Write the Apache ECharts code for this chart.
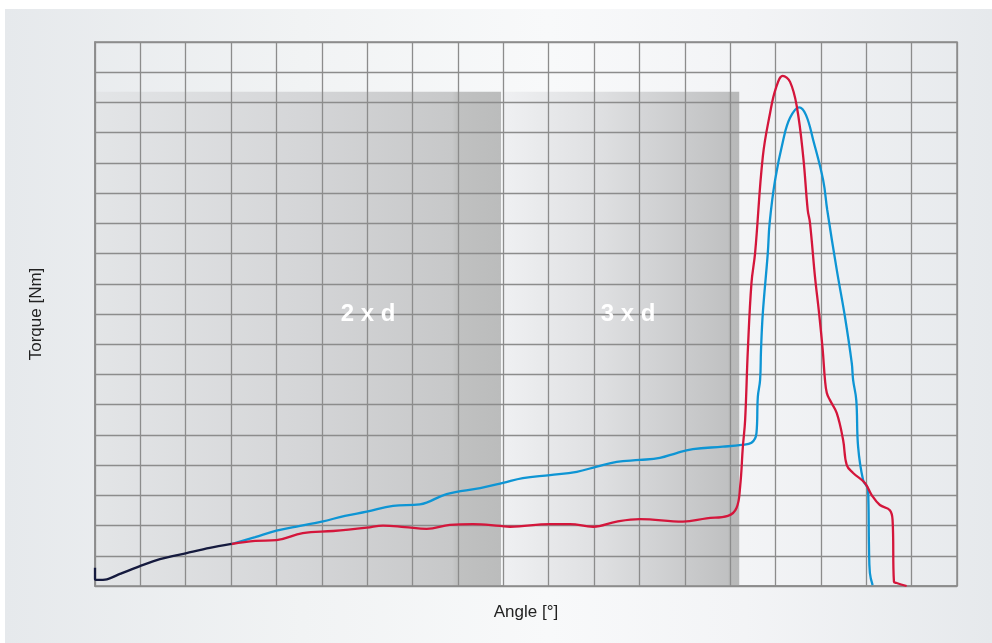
<!DOCTYPE html>
<html>
<head>
<meta charset="utf-8">
<script src="https://cdn.jsdelivr.net/npm/echarts@6/dist/echarts.min.js"></script>
<style>
  html, body { margin: 0; padding: 0; width: 992px; height: 643px; background: #ffffff; overflow: hidden; }
  #card { position: absolute; left: 5px; top: 9px; right: 0; bottom: 0;
    background: linear-gradient(90deg, #e6e9ec 0%, #f1f3f4 30%, #f8f9fa 55%, #f3f4f6 75%, #e6e9ec 100%); }
  #chart { position: absolute; left: 0; top: 0; width: 992px; height: 643px; }
</style>
</head>
<body>
<div id="card"></div>
<div id="chart"></div>
<script>
// ---- data (x in grid units of angle, y in grid units of torque) ----
const commonCurve = [
  [0, 0.60], [0, 0.23], [0.04, 0.20], [0.26, 0.22], [0.55, 0.40], [0.99, 0.66],
  [1.43, 0.89], [2.02, 1.09], [2.53, 1.26], [3.01, 1.39]
];
const blueCurve = [
  [3.01, 1.39], [3.53, 1.62], [4.00, 1.83], [4.52, 1.99], [5.00, 2.13], [5.51, 2.32],
  [5.99, 2.46], [6.57, 2.65], [7.16, 2.70], [7.75, 3.04], [8.49, 3.24], [8.99, 3.41],
  [9.43, 3.57], [10.03, 3.67], [10.62, 3.78], [11.06, 3.95], [11.50, 4.11], [12.01, 4.17],
  [12.45, 4.24], [12.82, 4.40], [13.18, 4.53], [13.84, 4.61], [14.25, 4.67], [14.47, 4.74],
  [14.58, 5.06], [14.61, 6.26], [14.66, 6.82], [14.68, 7.81], [14.72, 9.03], [14.83, 11.02],
  [14.87, 12.01], [14.99, 13.43], [15.17, 14.76], [15.32, 15.49], [15.52, 15.84],
  [15.67, 15.59], [15.83, 14.76], [16.05, 13.43], [16.14, 12.44],
  [16.35, 10.46], [16.53, 8.91], [16.68, 7.38], [16.71, 6.82], [16.78, 6.15], [16.82, 4.61],
  [16.93, 3.51], [17.04, 3.18], [17.06, 1.30], [17.08, 0.43], [17.14, 0.03]
];
const redCurve = [
  [3.01, 1.39], [3.53, 1.49], [4.00, 1.52], [4.58, 1.75], [5.25, 1.82], [5.99, 1.93],
  [6.35, 2.00], [6.83, 1.95], [7.31, 1.89], [7.82, 2.02], [8.33, 2.05], [8.93, 1.99],
  [9.15, 1.96], [10.03, 2.05], [10.47, 2.05], [10.98, 1.96], [11.50, 2.13], [12.01, 2.21],
  [12.96, 2.13], [13.48, 2.24], [13.95, 2.32], [14.14, 2.58], [14.22, 3.29], [14.28, 4.61],
  [14.33, 5.49], [14.39, 7.81], [14.47, 10.03], [14.55, 11.02],
  [14.72, 14.21], [14.88, 15.65], [15.01, 16.48], [15.16, 16.88], [15.32, 16.68],
  [15.47, 15.86], [15.61, 14.21], [15.71, 12.44], [15.76, 12.01], [15.87, 10.23],
  [15.96, 9.03], [16.04, 7.81], [16.09, 6.82], [16.13, 6.39], [16.20, 6.15], [16.35, 5.72],
  [16.49, 4.83], [16.57, 4.00], [16.71, 3.74], [16.97, 3.41], [17.12, 3.01], [17.30, 2.68],
  [17.52, 2.51], [17.58, 2.18], [17.61, 0.14], [17.67, 0.10], [17.89, 0.00]
];
// shaded zones
const zoneStarts = [0, 9.0];
const zoneEnds = [8.95, 14.2];
const zoneTop = 16.35;
const zoneLabels = ['2 x d', '3 x d'];
const zoneLabelPos = [[6.02, 9.0], [11.75, 9.0]];
// axes
const xMin = 0, xMax = 19, yMin = 0, yMax = 18;
const xName = 'Angle [°]';
const yName = 'Torque [Nm]';

const zoneGradients = [
  { type: 'linear', x: 0, y: 0, x2: 1, y2: 0, colorStops: [
    { offset: 0, color: '#e3e5e7' }, { offset: 0.5, color: '#d5d6d8' },
    { offset: 0.88, color: '#c7c8c9' }, { offset: 0.89, color: '#c0c1c1' }, { offset: 1, color: '#bbbcbc' } ] },
  { type: 'linear', x: 0, y: 0, x2: 1, y2: 0, colorStops: [
    { offset: 0, color: '#eff0f2' }, { offset: 0.4, color: '#dfe0e2' },
    { offset: 0.95, color: '#c0c1c2' }, { offset: 0.96, color: '#b9baba' }, { offset: 1, color: '#b8b9b9' } ] }
];

const chart = echarts.init(document.getElementById('chart'), null, { renderer: 'canvas' });
const gridColor = '#8c8c8c';
const axisCommon = {
  type: 'value', z: 3,
  axisLabel: { show: false }, axisTick: { show: false },
  axisLine: { show: true, lineStyle: { color: gridColor, width: 1.5 } },
  splitLine: { show: true, lineStyle: { color: gridColor, width: 1.3 } }
};
chart.setOption({
  backgroundColor: 'transparent',
  animation: false,
  grid: { left: 95, right: 35, top: 42, bottom: 57, show: true, borderColor: gridColor, borderWidth: 1.5, backgroundColor: 'transparent' },
  xAxis: Object.assign({}, axisCommon, {
    min: xMin, max: xMax, interval: 1,
    name: xName, nameLocation: 'middle', nameGap: 18,
    nameTextStyle: { color: '#222', fontSize: 17, fontFamily: 'Liberation Sans, Arial, sans-serif' }
  }),
  yAxis: Object.assign({}, axisCommon, {
    min: yMin, max: yMax, interval: 1,
    name: yName, nameLocation: 'middle', nameGap: 50,
    nameTextStyle: { color: '#222', fontSize: 17, fontFamily: 'Liberation Sans, Arial, sans-serif' }
  }),
  series: [
    {
      type: 'line', z: 1, data: [], silent: true,
      markArea: {
        silent: true,
        data: zoneStarts.map((s, i) => [
          { xAxis: s, yAxis: yMin, itemStyle: { color: zoneGradients[i] } },
          { xAxis: zoneEnds[i], yAxis: zoneTop }
        ])
      }
    },
    {
      type: 'scatter', z: 4, symbolSize: 0, silent: true,
      itemStyle: { color: 'transparent', opacity: 1 },
      data: zoneLabelPos.map((p, i) => ({ value: p, name: zoneLabels[i] })),
      label: { show: true, position: 'inside', formatter: '{b}', color: '#ffffff', opacity: 1,
        textBorderWidth: 0, textBorderColor: 'transparent', textShadowBlur: 0,
        fontSize: 24, fontWeight: 'bold',
        fontFamily: 'Liberation Sans, Arial, sans-serif' }
    },
    {
      type: 'line', z: 5, data: blueCurve, showSymbol: false, smooth: 0.4,
      lineStyle: { color: '#0e95d4', width: 2.3 }
    },
    {
      type: 'line', z: 6, data: redCurve, showSymbol: false, smooth: 0.4,
      lineStyle: { color: '#d4163b', width: 2.3 }
    },
    {
      type: 'line', z: 7, data: commonCurve, showSymbol: false, smooth: 0.3,
      lineStyle: { color: '#151a3e', width: 2.3 }
    }
  ]
});
</script>
</body>
</html>
